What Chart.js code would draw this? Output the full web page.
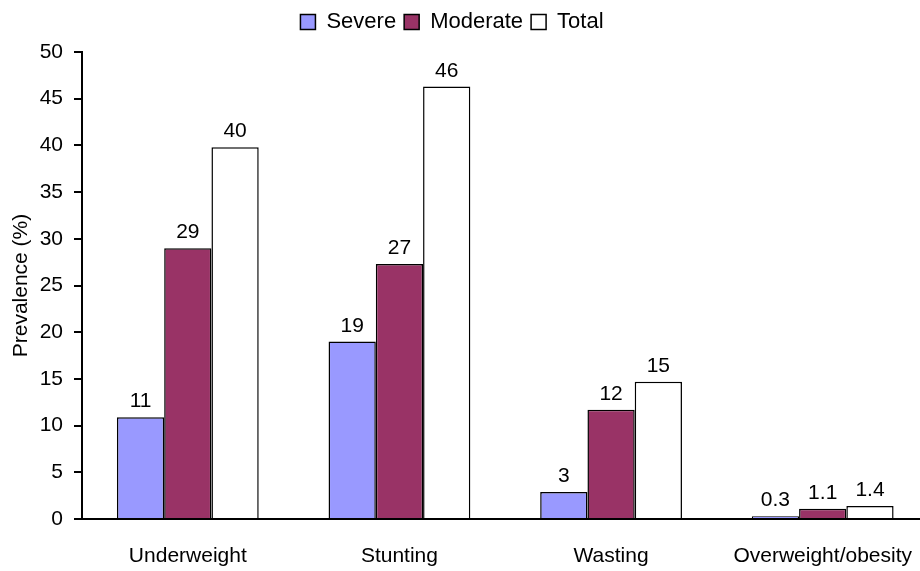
<!DOCTYPE html>
<html>
<head>
<meta charset="utf-8">
<script src="https://cdn.jsdelivr.net/npm/chart.js@4/dist/chart.umd.min.js"></script>
<style>
  html, body { margin: 0; padding: 0; background: #fff; overflow: hidden; }
  #wrap { width: 929px; height: 571px; }
</style>
</head>
<body>
<div id="wrap"><canvas id="chart"></canvas></div>
<script>
// dados
var categories = ['Underweight', 'Stunting', 'Wasting', 'Overweight/obesity'];
var severe = [10.9, 19.0, 2.9, 0.3];
var moderate = [29.0, 27.3, 11.7, 1.1];
var total = [39.8, 46.3, 14.7, 1.4];
var severeLabels = ['11', '19', '3', '0.3'];
var moderateLabels = ['29', '27', '12', '1.1'];
var totalLabels = ['40', '46', '15', '1.4'];
var yTicks = [0, 5, 10, 15, 20, 25, 30, 35, 40, 45, 50];

var fontFamily = '"Liberation Sans", Arial, sans-serif';

// Plugin simples para escrever o valor acima de cada barra
var valueLabels = {
  id: 'valueLabels',
  afterDatasetsDraw: function(chart) {
    var ctx = chart.ctx;
    ctx.save();
    ctx.fillStyle = '#000';
    ctx.font = '21px ' + fontFamily;
    ctx.textAlign = 'center';
    ctx.textBaseline = 'alphabetic';
    chart.data.datasets.forEach(function(ds, i) {
      var meta = chart.getDatasetMeta(i);
      meta.data.forEach(function(bar, j) {
        ctx.fillText(ds.valueLabels[j], bar.x, bar.y - 10);
      });
    });
    ctx.restore();
  }
};

// Espaço extra abaixo da legenda e legenda um pouco à esquerda
var legendSpacing = {
  id: 'legendSpacing',
  beforeInit: function(chart) {
    var originalFit = chart.legend.fit;
    chart.legend.fit = function() {
      originalFit.bind(chart.legend)();
      this.height += 9;
    };
  },
  afterLayout: function(chart) {
    chart.legend.right -= 32;
  }
};

var ctx = document.getElementById('chart').getContext('2d');
var chart = new Chart(ctx, {
  type: 'bar',
  data: {
    labels: categories,
    datasets: [{
      label: 'Severe',
      data: severe,
      valueLabels: severeLabels,
      backgroundColor: '#9999FF',
      borderColor: '#000',
      borderWidth: 1.5
    }, {
      label: 'Moderate',
      data: moderate,
      valueLabels: moderateLabels,
      backgroundColor: '#993366',
      borderColor: '#000',
      borderWidth: 1.5
    }, {
      label: 'Total',
      data: total,
      valueLabels: totalLabels,
      backgroundColor: '#FFFFFF',
      borderColor: '#000',
      borderWidth: 1.5
    }]
  },
  options: {
    responsive: true,
    maintainAspectRatio: false,
    animation: false,
    categoryPercentage: 0.67,
    barPercentage: 1.0,
    layout: { padding: { left: 7, right: 0, top: 3, bottom: 0 } },
    plugins: {
      legend: {
        position: 'top',
        labels: {
          color: '#000',
          font: { family: fontFamily, size: 22 },
          boxWidth: 15,
          boxHeight: 15,
          padding: 8,
          generateLabels: function(chart) {
            return chart.data.datasets.map(function(ds, i) {
              return {
                text: ds.label,
                fillStyle: ds.backgroundColor,
                strokeStyle: '#000',
                lineWidth: 1.5,
                datasetIndex: i
              };
            });
          }
        }
      },
      tooltip: { enabled: false }
    },
    scales: {
      x: {
        grid: { display: false },
        border: { display: true, color: '#000', width: 2 },
        afterFit: function(scale) {
          scale.height = 52;
        },
        ticks: {
          color: '#000',
          font: { family: fontFamily, size: 21 },
          padding: 17,
          maxRotation: 0
        }
      },
      y: {
        min: 0,
        max: 50,
        afterBuildTicks: function(axis) {
          axis.ticks = yTicks.map(function(v) { return { value: v }; });
        },
        afterFit: function(scale) {
          scale.width = 75;
        },
        grid: {
          drawOnChartArea: false,
          drawTicks: true,
          tickLength: 8,
          color: '#000',
          lineWidth: 2
        },
        border: { display: true, color: '#000', width: 2 },
        ticks: {
          color: '#000',
          font: { family: fontFamily, size: 21 },
          padding: 11
        },
        title: {
          display: true,
          text: 'Prevalence (%)',
          color: '#000',
          font: { family: fontFamily, size: 21 },
          padding: { top: 2, bottom: 4 }
        }
      }
    }
  },
  plugins: [valueLabels, legendSpacing]
});
</script>
</body>
</html>
